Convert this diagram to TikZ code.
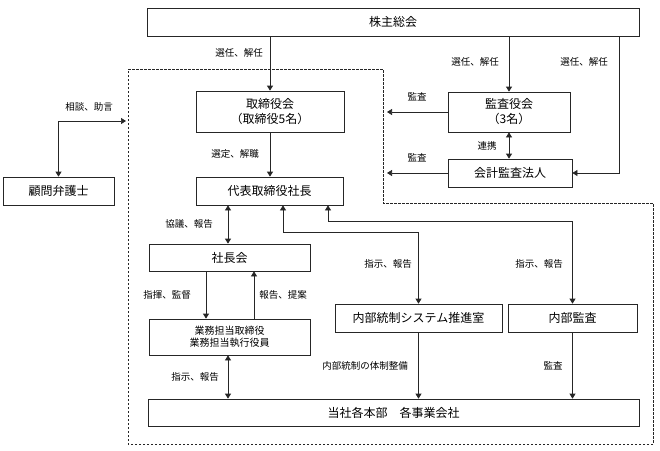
\documentclass[tikz,border=0pt]{standalone}
\usepackage{fontspec}
\setmainfont{Noto Sans CJK JP}
\usetikzlibrary{arrows.meta,calc}
\begin{document}
\begin{tikzpicture}[x=1pt,y=-1pt,
  box/.style={draw=black!85,line width=0.7pt,inner sep=0pt,align=center,font=\fontsize{12}{15}\selectfont},
  lbl/.style={font=\fontsize{9.5}{11}\selectfont,inner sep=0pt},
  conn/.style={draw=black!85,line width=0.7pt},
  arr/.style={conn,-{Triangle[length=5pt,width=6pt]}},
  darr/.style={conn,{Triangle[length=5pt,width=6pt]}-{Triangle[length=5pt,width=6pt]}}]
\useasboundingbox (0,0) rectangle (660,450);
% dashed region
\draw[black!85,line width=0.7pt,dash pattern=on 2.5pt off 1.5pt] (128,69) -- (383,69) -- (383,203) -- (653,203) -- (653,444) -- (128,444) -- cycle;
% boxes
\node[box,minimum width=492,minimum height=28] (kabu) at (393,22) {株主総会};
\node[box,minimum width=148,minimum height=41] (tori) at (270,111.5) {取締役会\\（取締役5名）};
\node[box,minimum width=147,minimum height=28] (daihyo) at (269.5,191) {代表取締役社長};
\node[box,minimum width=111,minimum height=28] (komon) at (58.5,191) {顧問弁護士};
\node[box,minimum width=122,minimum height=40] (kansa) at (509,112) {監査役会\\（3名）};
\node[box,minimum width=124,minimum height=28] (kaikei) at (510,173) {会計監査法人};
\node[box,minimum width=161,minimum height=27] (shacho) at (229.5,257.5) {社長会};
\node[box,minimum width=161,minimum height=36,font=\fontsize{10}{12.5}\selectfont] (gyomu) at (229.5,337) {業務担当取締役\\業務担当執行役員};
\node[box,minimum width=167,minimum height=28] (naibu) at (418.5,318) {内部統制システム推進室};
\node[box,minimum width=129,minimum height=28] (nkansa) at (572.5,318) {内部監査};
\node[box,minimum width=491,minimum height=27] (tosha) at (393.5,412.5) {当社各本部\quad 各事業会社};
% helper coordinates
\coordinate (c3) at (619,172);
\coordinate (bound) at (387,0);
\coordinate (advice) at (126,121);
\coordinate (x228) at (228,0);
\coordinate (x206) at (206,0);
\coordinate (x254) at (254,0);
\coordinate (j1) at (283,232);
\coordinate (j2) at (328,221);
% connectors
\draw[arr] (kabu.south -| tori.north) -- (tori.north);
\draw[arr] (kabu.south -| kansa.north) -- (kansa.north);
\draw[arr] (kabu.south -| c3) |- (kaikei.east);
\draw[arr] (tori.south -| tori.north) -- (daihyo.north -| tori.north);
\draw[darr] (komon.north) |- (advice);
\draw[arr] (kansa.west) -- (kansa.west -| bound);
\draw[arr] (kaikei.west) -- (kaikei.west -| bound);
\draw[darr] (kansa.south) -- (kaikei.north -| kansa.south);
\draw[darr] (daihyo.south -| x228) -- (shacho.north -| x228);
\draw[darr] (daihyo.south -| j1) -- (j1) -| (naibu.north);
\draw[darr] (daihyo.south -| j2) -- (j2) -| (nkansa.north);
\draw[arr] (shacho.south -| x206) -- (gyomu.north -| x206);
\draw[arr] (gyomu.north -| x254) -- (shacho.south -| x254);
\draw[darr] (gyomu.south -| x228) -- (tosha.north -| x228);
\draw[arr] (naibu.south) -- (tosha.north -| naibu.south);
\draw[arr] (nkansa.south) -- (tosha.north -| nkansa.south);
% labels
\node[lbl] (l1) at (239,53) {選任、解任};
\node[lbl] (l2) at (475,62) {選任、解任};
\node[lbl] (l3) at (584,62) {選任、解任};
\node[lbl] (l4) at (235,154) {選定、解職};
\node[lbl] (l5) at (89,107) {相談、助言};
\node[lbl] (l6) at (417,97) {監査};
\node[lbl] (l7) at (417,158) {監査};
\node[lbl] (l8) at (487,146) {連携};
\node[lbl] (l9) at (189,224) {協議、報告};
\node[lbl] (l10) at (388,264) {指示、報告};
\node[lbl] (l11) at (539,264) {指示、報告};
\node[lbl] (l12) at (167,295) {指揮、監督};
\node[lbl] (l13) at (283,295) {報告、提案};
\node[lbl] (l14) at (195,377) {指示、報告};
\node[lbl] (l15) at (365,366) {内部統制の体制整備};
\node[lbl] (l16) at (553,366) {監査};
\end{tikzpicture}
\end{document}
